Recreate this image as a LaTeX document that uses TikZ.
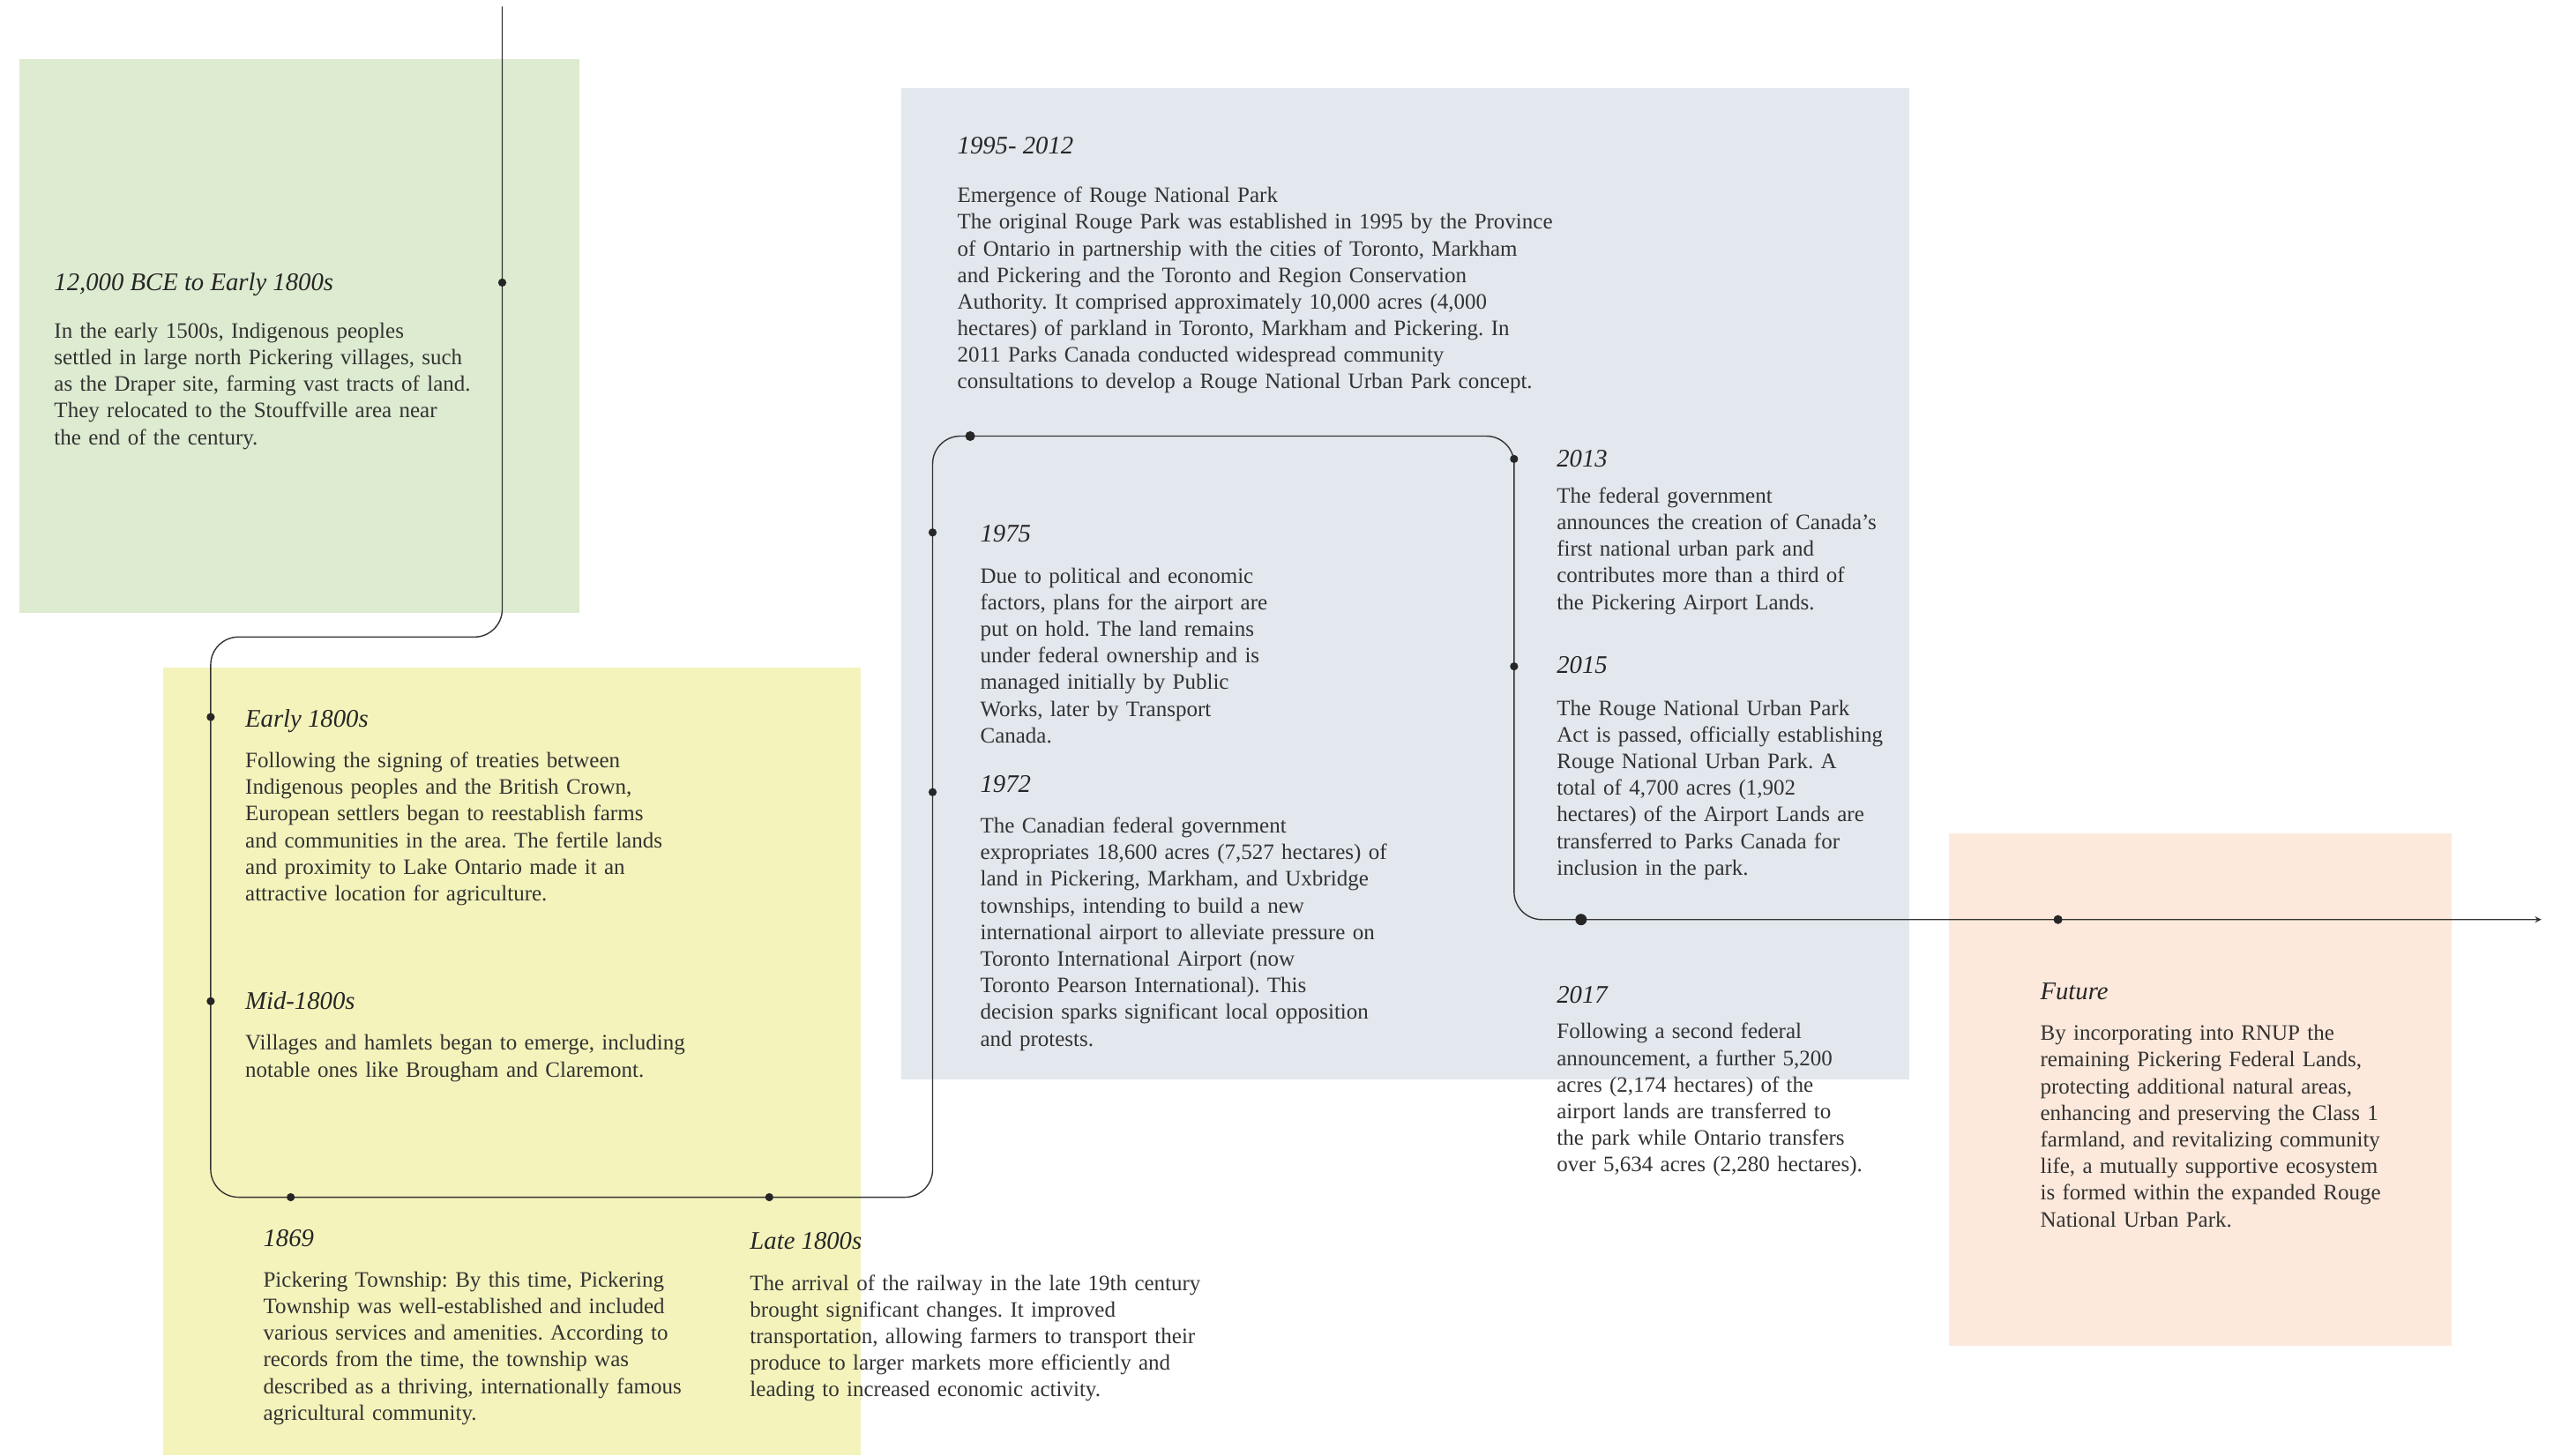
\documentclass[tikz,border=0pt]{standalone}
\usepackage{fontspec}
\setmainfont{Liberation Serif}
\usetikzlibrary{arrows,positioning}
\frenchspacing

\definecolor{sage}{RGB}{221,235,208}
\definecolor{straw}{RGB}{244,243,187}
\definecolor{mist}{RGB}{227,231,238}
\definecolor{peach}{RGB}{252,233,219}

\begin{document}
\begin{tikzpicture}[x=1pt, y=-1pt,
    timeline/.style={draw=black!80, line width=0.75pt, rounded corners=17pt},
    dot/.style={circle, fill=black!85, inner sep=0pt, minimum size=5pt},
    head/.style={anchor=base west, inner sep=0pt, text=black!85,
        font=\fontsize{15.5}{18}\selectfont\itshape},
    body/.style={anchor=base west, inner sep=0pt, text=black!80, text width=380pt,
        align=left, font=\fontsize{13.5}{16.3}\selectfont}]
    \useasboundingbox (0,0) rectangle (1568,891);
    \fill[sage] (12,36) rectangle (355,375);
    \fill[straw] (100,409) rectangle (527,891);
    \fill[mist] (552,54) rectangle (1169,661);
    \fill[peach] (1193,510) rectangle (1501,824);

    \coordinate (top) at (307.5,4);
    \coordinate (c1) at (307.5,390);
    \coordinate (c2) at (129,390);
    \coordinate (c3) at (129,733);
    \coordinate (c4) at (571,733);
    \coordinate (c5) at (571,267);
    \coordinate (c6) at (927,267);
    \coordinate (c7) at (927,563);
    \coordinate (end) at (1556,563);
    \draw[timeline, -stealth] (top) -- (c1) -- (c2) -- (c3) -- (c4) -- (c5)
        -- (c6) -- (c7) -- (end);

    \node[dot] (bce) at (307.5,173) {};
    \node[dot] (early) at (129,439) {};
    \node[dot] (mid) at (129,613) {};
    \node[dot] (y1869) at (178,733) {};
    \node[dot] (late) at (471,733) {};
    \node[dot] (y1972) at (571,485) {};
    \node[dot] (y1975) at (571,326) {};
    \node[dot, minimum size=6pt] (y1995) at (594,267) {};
    \node[dot] (y2013) at (927,281) {};
    \node[dot] (y2015) at (927,408) {};
    \node[dot, minimum size=7pt] (y2017) at (968,563) {};
    \node[dot, minimum size=5.5pt] (future) at (1260,563) {};

    \node[head] (tbce) at (33,178) {12,000 BCE to Early 1800s};
    \node[below=29pt of tbce.base west, body] (bbce) {In the early 1500s, Indigenous peoples\\
        settled in large north Pickering villages, such\\
        as the Draper site, farming vast tracts of land.\\
        They relocated to the Stouffville area near\\
        the end of the century.};

    \node[head] (tearly) at (150,445) {Early 1800s};
    \node[below=25pt of tearly.base west, body] (bearly) {Following the signing of treaties between\\
        Indigenous peoples and the British Crown,\\
        European settlers began to reestablish farms\\
        and communities in the area. The fertile lands\\
        and proximity to Lake Ontario made it an\\
        attractive location for agriculture.};

    \node[head] (tmid) at (150,618) {Mid-1800s};
    \node[below=25pt of tmid.base west, body] (bmid) {Villages and hamlets began to emerge, including\\
        notable ones like Brougham and Claremont.};

    \node[head] (t1869) at (161,763) {1869};
    \node[below=25pt of t1869.base west, body] (b1869) {Pickering Township: By this time, Pickering\\
        Township was well-established and included\\
        various services and amenities. According to\\
        records from the time, the township was\\
        described as a thriving, internationally famous\\
        agricultural community.};

    \node[head] (tlate) at (459,765) {Late 1800s};
    \node[below=25pt of tlate.base west, body] (blate) {The arrival of the railway in the late 19th century\\
        brought significant changes. It improved\\
        transportation, allowing farmers to transport their\\
        produce to larger markets more efficiently and\\
        leading to increased economic activity.};

    \node[head] (t1995) at (586,94) {1995- 2012};
    \node[below=30pt of t1995.base west, body] (b1995) {Emergence of Rouge National Park\\
        The original Rouge Park was established in 1995 by the Province\\
        of Ontario in partnership with the cities of Toronto, Markham\\
        and Pickering and the Toronto and Region Conservation\\
        Authority. It comprised approximately 10,000 acres (4,000\\
        hectares) of parkland in Toronto, Markham and Pickering. In\\
        2011 Parks Canada conducted widespread community\\
        consultations to develop a Rouge National Urban Park concept.};

    \node[head] (t1975) at (600,332) {1975};
    \node[below=25pt of t1975.base west, body] (b1975) {Due to political and economic\\
        factors, plans for the airport are\\
        put on hold. The land remains\\
        under federal ownership and is\\
        managed initially by Public\\
        Works, later by Transport\\
        Canada.};

    \node[head] (t1972) at (600,485) {1972};
    \node[below=25pt of t1972.base west, body] (b1972) {The Canadian federal government\\
        expropriates 18,600 acres (7,527 hectares) of\\
        land in Pickering, Markham, and Uxbridge\\
        townships, intending to build a new\\
        international airport to alleviate pressure on\\
        Toronto International Airport (now\\
        Toronto Pearson International). This\\
        decision sparks significant local opposition\\
        and protests.};

    \node[head] (t2013) at (953,286) {2013};
    \node[below=22pt of t2013.base west, body] (b2013) {The federal government\\
        announces the creation of Canada’s\\
        first national urban park and\\
        contributes more than a third of\\
        the Pickering Airport Lands.};

    \node[head] (t2015) at (953,412) {2015};
    \node[below=26pt of t2015.base west, body] (b2015) {The Rouge National Urban Park\\
        Act is passed, officially establishing\\
        Rouge National Urban Park. A\\
        total of 4,700 acres (1,902\\
        hectares) of the Airport Lands are\\
        transferred to Parks Canada for\\
        inclusion in the park.};

    \node[head] (t2017) at (953,614) {2017};
    \node[below=22pt of t2017.base west, body] (b2017) {Following a second federal\\
        announcement, a further 5,200\\
        acres (2,174 hectares) of the\\
        airport lands are transferred to\\
        the park while Ontario transfers\\
        over 5,634 acres (2,280 hectares).};

    \node[head] (tfuture) at (1249,612) {Future};
    \node[below=25pt of tfuture.base west, body] (bfuture) {By incorporating into RNUP the\\
        remaining Pickering Federal Lands,\\
        protecting additional natural areas,\\
        enhancing and preserving the Class 1\\
        farmland, and revitalizing community\\
        life, a mutually supportive ecosystem\\
        is formed within the expanded Rouge\\
        National Urban Park.};
\end{tikzpicture}
\end{document}
